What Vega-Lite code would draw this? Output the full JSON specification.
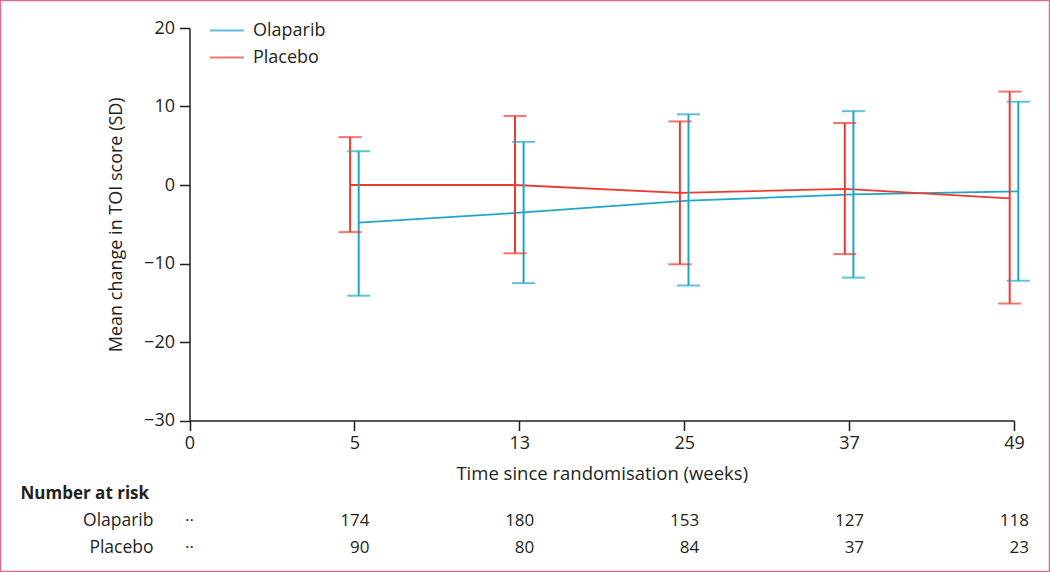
{
  "$schema": "https://vega.github.io/schema/vega-lite/v6.json",
  "width": 1050,
  "height": 572,
  "autosize": {"type": "none"},
  "padding": 0,
  "background": "white",
  "config": {
    "font": "Open Sans",
    "view": {"stroke": "#d66d8e", "strokeWidth": 2.5},
    "text": {"color": "#231f20", "font": "Open Sans"},
    "legend": {
      "labelFontSize": 18,
      "labelFont": "Open Sans",
      "labelColor": "#231f20",
      "labelLimit": 300
    }
  },
  "datasets": {
    "toi": [
      {"week": 5, "arm": "Olaparib", "mean": -4.8, "lower": -14.1, "upper": 4.3},
      {"week": 13, "arm": "Olaparib", "mean": -3.5, "lower": -12.5, "upper": 5.5},
      {"week": 25, "arm": "Olaparib", "mean": -2.0, "lower": -12.8, "upper": 9.0},
      {"week": 37, "arm": "Olaparib", "mean": -1.2, "lower": -11.8, "upper": 9.4},
      {"week": 49, "arm": "Olaparib", "mean": -0.8, "lower": -12.2, "upper": 10.6},
      {"week": 5, "arm": "Placebo", "mean": 0.0, "lower": -6.0, "upper": 6.1},
      {"week": 13, "arm": "Placebo", "mean": 0.0, "lower": -8.7, "upper": 8.8},
      {"week": 25, "arm": "Placebo", "mean": -1.0, "lower": -10.1, "upper": 8.1},
      {"week": 37, "arm": "Placebo", "mean": -0.5, "lower": -8.8, "upper": 7.9},
      {"week": 49, "arm": "Placebo", "mean": -1.7, "lower": -15.1, "upper": 11.9}
    ],
    "risk": [
      {"week": 0, "row": "Olaparib", "n": "··"},
      {"week": 5, "row": "Olaparib", "n": "174"},
      {"week": 13, "row": "Olaparib", "n": "180"},
      {"week": 25, "row": "Olaparib", "n": "153"},
      {"week": 37, "row": "Olaparib", "n": "127"},
      {"week": 49, "row": "Olaparib", "n": "118"},
      {"week": 0, "row": "Placebo", "n": "··"},
      {"week": 5, "row": "Placebo", "n": "90"},
      {"week": 13, "row": "Placebo", "n": "80"},
      {"week": 25, "row": "Placebo", "n": "84"},
      {"week": 37, "row": "Placebo", "n": "37"},
      {"week": 49, "row": "Placebo", "n": "23"}
    ],
    "labels": [
      {"col": "head", "row": "header", "label": "Number at risk"},
      {"col": "arm", "row": "Olaparib", "label": "Olaparib"},
      {"col": "arm", "row": "Placebo", "label": "Placebo"}
    ]
  },
  "layer": [
    {
      "data": {"name": "toi"},
      "encoding": {
        "x": {
          "field": "week",
          "type": "ordinal",
          "scale": {"type": "point", "domain": [0, 5, 13, 25, 37, 49], "range": [189.5, 1014], "padding": 0},
          "axis": {
            "title": "Time since randomisation (weeks)",
            "offset": -151.5,
            "grid": false,
            "labelAngle": 0,
            "domainColor": "#231f20",
            "domainWidth": 1.5,
            "tickColor": "#231f20",
            "tickWidth": 1.5,
            "tickSize": 10,
            "labelFontSize": 18,
            "labelPadding": 4,
            "labelColor": "#231f20",
            "labelFont": "Open Sans",
            "titleFont": "Open Sans",
            "titleFontSize": 18.5,
            "titleFontWeight": "normal",
            "titleColor": "#231f20",
            "titlePadding": 12
          }
        },
        "xOffset": {
          "field": "arm",
          "type": "nominal",
          "scale": {"type": "point", "domain": ["Placebo", "Olaparib"], "range": [-4.3, 4.3], "padding": 0}
        },
        "color": {
          "field": "arm",
          "type": "nominal",
          "scale": {"domain": ["Olaparib", "Placebo"], "range": ["#1ca6ca", "#ee3a2e"]},
          "legend": {
            "title": null,
            "orient": "none",
            "legendX": 209,
            "legendY": 17,
            "symbolType": "stroke",
            "symbolSize": 1156,
            "symbolStrokeWidth": 2,
            "labelFontSize": 18,
            "labelFont": "Open Sans",
            "labelColor": "#231f20",
            "labelOffset": 8,
            "rowPadding": 0,
            "clipHeight": 27,
            "padding": 0
          }
        }
      },
      "layer": [
        {
          "mark": {"type": "line", "strokeWidth": 1.8},
          "encoding": {
            "y": {
              "field": "mean",
              "type": "quantitative",
              "scale": {"domain": [-30, 20], "range": [420.5, 28], "nice": false, "zero": false},
              "axis": {
                "title": "Mean change in TOI score (SD)",
                "offset": -189.5,
                "values": [-30, -20, -10, 0, 10, 20],
                "grid": false,
                "domainColor": "#231f20",
                "domainWidth": 1.5,
                "tickColor": "#231f20",
                "tickWidth": 1.5,
                "tickSize": 10,
                "labelFontSize": 18,
                "labelPadding": 5,
                "labelColor": "#231f20",
                "labelFont": "Open Sans",
                "titleFont": "Open Sans",
                "titleFontSize": 18,
                "titleFontWeight": "normal",
                "titleColor": "#231f20",
                "titlePadding": 18
              }
            }
          }
        },
        {
          "mark": {"type": "rule", "strokeWidth": 2},
          "encoding": {
            "y": {"field": "lower", "type": "quantitative"},
            "y2": {"field": "upper"}
          }
        },
        {
          "mark": {"type": "tick", "size": 23, "thickness": 2, "orient": "horizontal"},
          "encoding": {"y": {"field": "lower", "type": "quantitative"}}
        },
        {
          "mark": {"type": "tick", "size": 23, "thickness": 2, "orient": "horizontal"},
          "encoding": {"y": {"field": "upper", "type": "quantitative"}}
        }
      ]
    },
    {
      "data": {"name": "risk"},
      "encoding": {
        "x": {
          "field": "week",
          "type": "ordinal",
          "scale": {"type": "point", "domain": [0, 5, 13, 25, 37, 49], "range": [189.5, 1014], "padding": 0},
          "axis": null
        },
        "y": {
          "field": "row",
          "type": "nominal",
          "scale": {"type": "point", "domain": ["header", "Olaparib", "Placebo"], "range": [499, 553], "padding": 0},
          "axis": null
        },
        "text": {"field": "n", "type": "nominal"}
      },
      "layer": [
        {
          "transform": [{"filter": "datum.week > 0"}],
          "mark": {"type": "text", "align": "right", "dx": 15, "baseline": "alphabetic", "fontSize": 17, "font": "Open Sans", "color": "#231f20"}
        },
        {
          "transform": [{"filter": "datum.week == 0"}],
          "mark": {"type": "text", "align": "center", "baseline": "alphabetic", "fontSize": 17, "font": "Open Sans", "color": "#231f20"}
        }
      ]
    },
    {
      "data": {"name": "labels"},
      "encoding": {
        "x": {
          "field": "col",
          "type": "nominal",
          "scale": {"type": "point", "domain": ["head", "arm"], "range": [20.5, 153.5], "padding": 0},
          "axis": null
        },
        "y": {
          "field": "row",
          "type": "nominal",
          "scale": {"type": "point", "domain": ["header", "Olaparib", "Placebo"], "range": [499, 553], "padding": 0},
          "axis": null
        },
        "text": {"field": "label", "type": "nominal"}
      },
      "layer": [
        {
          "transform": [{"filter": "datum.col == 'head'"}],
          "mark": {"type": "text", "align": "left", "baseline": "alphabetic", "fontSize": 17, "fontWeight": "bold", "font": "Open Sans", "color": "#231f20"}
        },
        {
          "transform": [{"filter": "datum.col == 'arm'"}],
          "mark": {"type": "text", "align": "right", "baseline": "alphabetic", "fontSize": 17.5, "font": "Open Sans", "color": "#231f20"}
        }
      ]
    }
  ],
  "resolve": {"scale": {"x": "independent", "y": "independent"}}
}
